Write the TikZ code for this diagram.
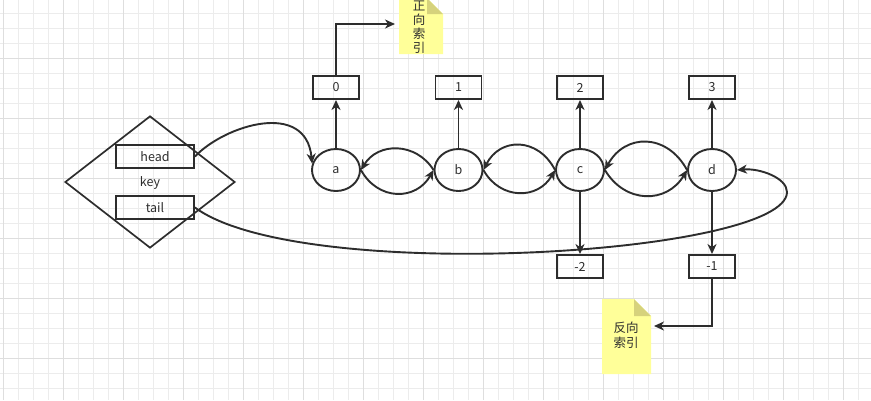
\documentclass[tikz,border=0pt]{standalone}
\usepackage{fontspec}
\newfontfamily\cjk{Noto Sans CJK SC}
\usetikzlibrary{arrows.meta,shapes.geometric}
\definecolor{ink}{RGB}{45,45,45}
\definecolor{gridminor}{RGB}{236,236,236}
\definecolor{gridmajor}{RGB}{222,222,222}
\definecolor{notebg}{RGB}{255,255,153}
\definecolor{notefold}{RGB}{214,210,124}

\begin{document}
\begin{tikzpicture}[x=1pt,y=-1pt,
  every node/.style={font=\cjk\fontsize{12.5}{14}\selectfont, text=ink},
  box/.style={draw=ink, line width=1.9pt, rectangle, inner sep=0pt, minimum height=23pt},
  idx/.style={box, minimum width=46pt},
  field/.style={box, minimum width=78pt},
  item/.style={draw=ink, line width=1.9pt, ellipse, inner sep=0pt, minimum width=48pt, minimum height=42pt},
  link/.style={draw=ink, line width=1.9pt, -{Stealth[length=10pt,width=9pt,inset=3pt]}},
  notetext/.style={inner sep=0pt, align=center},
]
\useasboundingbox (0,0) rectangle (871,400);
\clip (0,0) rectangle (871,400);

% grid paper
\foreach \x in {3.3,18.3,...,871} \draw[gridminor, line width=1pt] (\x,0) -- (\x,400);
\foreach \y in {-1.7,13.3,...,400} \draw[gridminor, line width=1pt] (0,\y) -- (871,\y);
\foreach \x in {3.3,63.3,...,871} \draw[gridmajor, line width=1pt] (\x,0) -- (\x,400);
\foreach \y in {-1.7,58.3,...,400} \draw[gridmajor, line width=1pt] (0,\y) -- (871,\y);

% sticky notes with folded corner
\fill[notebg] (399,-2) -- (427,-2) -- (443,14) -- (443,54) -- (399,54) -- cycle;
\fill[notefold] (427,-2) -- (443,14) -- (427,14) -- cycle;
\fill[notebg] (602,299) -- (634,299) -- (651,316) -- (651,374) -- (602,374) -- cycle;
\fill[notefold] (634,299) -- (651,316) -- (634,316) -- cycle;

\node[notetext] (n1) at (419,27) {正\\向\\索\\引};
\node[notetext, font=\cjk\fontsize{12.5}{15}\selectfont] (n2) at (626,335) {反向\\索引};

% dict entry
\node[draw=ink, line width=1.7pt, diamond, inner sep=0pt, minimum width=170pt, minimum height=132pt] (key) at (150,182) {};
\node at (150,183) {key};
\node[field] (head) at (155,156.5) {head};
\node[field] (tail) at (155,207.5) {tail};

% list items
\node[item] (a) at (336,170) {a};
\node[item] (b) at (458.5,170) {b};
\node[item] (c) at (580,170) {c};
\node[item] (d) at (712,170) {d};

% indexes
\node[idx] (z0) at (336,87.5) {0};
\node[idx] (z1) at (458.5,87.5) {1};
\node[idx] (z2) at (580,87.5) {2};
\node[idx] (z3) at (712,87.5) {3};
\node[idx] (m2) at (580,266.5) {-2};
\node[idx] (m1) at (712,266.5) {-1};

\coordinate (n1tip) at (395,24);
\coordinate (n2tip) at (654,326);
\coordinate (bend) at (787,192);

% index arrows
\draw[link] (a) -- (z0);
\draw[link] (b) -- (z1);
\draw[link] (c) -- (z2);
\draw[link] (d) -- (z3);
\draw[link] (c) -- (m2);
\draw[link] (d) -- (m1);
\draw[link] (z0.north) |- (n1tip);
\draw[link] (m1.south) |- (n2tip);

% next / prev links
\draw[link] (a.east) .. controls (378,201) and (416,201) .. (b.west);
\draw[link] (b.west) .. controls (416,142) and (378,142) .. (a.east);
\draw[link] (b.east) .. controls (500,200) and (538,200) .. (c.west);
\draw[link] (c.west) .. controls (538,137) and (500,137) .. (b.east);
\draw[link] (c.east) .. controls (625,204) and (667,204) .. (d.west);
\draw[link] (d.west) .. controls (667,133) and (625,133) .. (c.east);

% head and tail pointers
\draw[link] (head.east) .. controls (225,125) and (306,100) .. (a.165);
\draw[link] (tail.east) .. controls (300,285) and (787,255) .. (bend)
  .. controls (787,178) and (760,168) .. (d.east);
\end{tikzpicture}
\end{document}
